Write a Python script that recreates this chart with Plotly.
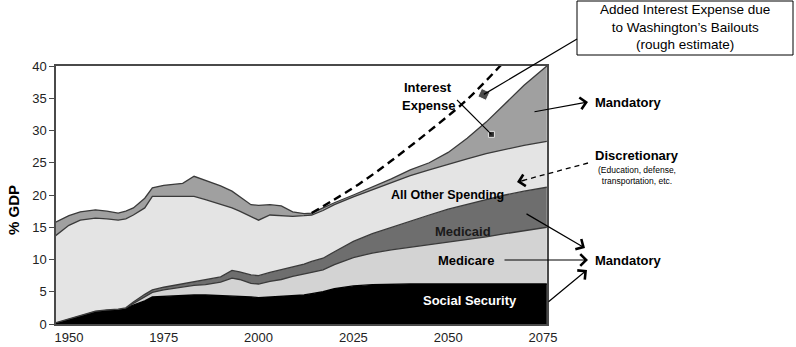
import plotly.graph_objects as go

# ---------------- data (% of GDP) ----------------
years = [1946.5, 1950, 1953, 1957, 1960, 1963, 1965, 1967, 1970, 1972, 1975, 1980,
         1983, 1986, 1990, 1993, 1995, 1998, 2000, 2003, 2006, 2009, 2012, 2014,
         2017, 2020, 2025, 2030, 2035, 2040, 2045, 2050, 2055, 2060, 2065, 2070, 2076]
social_security = [0.2, 0.8, 1.3, 2.0, 2.2, 2.3, 2.5, 2.9, 3.6, 4.2, 4.3, 4.4,
                   4.5, 4.5, 4.4, 4.4, 4.3, 4.2, 4.1, 4.2, 4.3, 4.4, 4.5, 4.7,
                   5.0, 5.5, 5.9, 6.1, 6.2, 6.2, 6.2, 6.2, 6.2, 6.2, 6.2, 6.2, 6.2]
medicare = [0, 0, 0, 0, 0, 0, 0, 0.3, 0.6, 0.7, 1.0, 1.3,
            1.5, 1.6, 2.1, 2.7, 2.6, 2.1, 2.1, 2.4, 2.6, 3.0, 3.2, 3.3,
            3.4, 3.7, 4.4, 4.9, 5.3, 5.7, 6.0, 6.4, 6.8, 7.3, 7.8, 8.3, 8.8]
medicaid = [0, 0, 0, 0, 0, 0, 0, 0.2, 0.4, 0.4, 0.4, 0.5,
            0.6, 0.7, 0.8, 1.2, 1.2, 1.3, 1.3, 1.4, 1.5, 1.5, 1.6, 1.7,
            1.8, 2.0, 2.5, 3.0, 3.5, 4.1, 4.7, 5.2, 5.6, 5.8, 6.0, 6.1, 6.2]
all_other = [13.5, 14.5, 14.8, 14.4, 14.1, 13.8, 13.8, 13.5, 13.4, 14.5, 14.1, 13.6,
             13.2, 12.5, 11.3, 9.7, 9.4, 9.0, 8.6, 8.9, 8.4, 7.8, 7.5, 7.2,
             7.4, 7.3, 6.9, 6.8, 7.0, 7.0, 7.0, 7.0, 7.0, 7.1, 7.1, 7.1, 7.1]
interest = [2.1, 1.5, 1.3, 1.3, 1.2, 1.1, 1.2, 1.1, 1.5, 1.3, 1.7, 2.0,
            3.1, 3.0, 2.8, 2.6, 2.3, 1.9, 2.3, 1.6, 1.5, 0.7, 0.3, 0.3,
            0.4, 0.3, 0.3, 0.4, 0.5, 0.9, 1.1, 1.8, 3.2, 4.9, 7.1, 9.3, 11.7]

bailout_years = [2014, 2020, 2027, 2035, 2045, 2055, 2064]
bailout_total = [17.2, 19.3, 21.9, 25.3, 29.9, 34.8, 40.2]

marker_years = [2059.4, 2061.4]
marker_values = [35.6, 29.4]

tick_years = [1950, 1975, 2000, 2025, 2050, 2075]
y_ticks = [0, 5, 10, 15, 20, 25, 30, 35, 40]

# ---------------- geometry helpers (pixels -> paper) ----------------
L, R, T, B = 56, 547, 66, 324
X0, X1 = 1946.6, 2076.05


def px(x):
    return (x - L) / (R - L)


def py(y):
    return (B - y) / (B - T)


def dx(year):
    return (year - X0) / (X1 - X0)


def dy(v):
    return v / 40.0


BOLD = "Liberation Sans, Arial, sans-serif"
NARROW = "Liberation Sans Narrow, Arial Narrow, Liberation Sans, Arial, sans-serif"
EDGE = "#3a3a3a"

fig = go.Figure()

series = [
    ("Social Security", social_security, "#000000", "#000000"),
    ("Medicare", medicare, "#d3d3d3", EDGE),
    ("Medicaid", medicaid, "#6e6e6e", EDGE),
    ("All Other Spending", all_other, "#e4e4e4", EDGE),
    ("Interest Expense", interest, "#a0a0a0", EDGE),
]
for name, vals, fillc, linec in series:
    fig.add_trace(go.Scatter(
        x=years, y=vals, name=name, mode="lines", stackgroup="one",
        fillcolor=fillc, line=dict(color=linec, width=1.3),
        showlegend=False, hoverinfo="skip"))

fig.add_trace(go.Scatter(
    x=bailout_years, y=bailout_total, mode="lines",
    line=dict(color="#000000", width=2.4, dash="8px,5px", shape="spline"),
    showlegend=False, hoverinfo="skip"))

fig.add_trace(go.Scatter(
    x=marker_years, y=marker_values, mode="markers",
    marker=dict(symbol="square", size=[9, 6], color="#000000", angle=[25, 0]),
    showlegend=False, hoverinfo="skip"))

shapes = [
    dict(type="rect", xref="paper", yref="paper",
         x0=px(577), x1=px(793), y0=py(55), y1=py(1),
         line=dict(color="#000000", width=1), fillcolor="white"),
    dict(type="line", xref="paper", yref="paper",
         x0=px(577), y0=py(39), x1=dx(marker_years[0]), y1=dy(marker_values[0]),
         line=dict(color="#000000", width=1.2)),
    dict(type="line", xref="paper", yref="paper",
         x0=px(457), y0=py(100), x1=dx(marker_years[1]), y1=dy(marker_values[1]),
         line=dict(color="#000000", width=1.1)),
    dict(type="line", xref="paper", yref="paper",
         x0=px(588), y0=py(163), x1=px(522), y1=py(180.7),
         line=dict(color="#000000", width=1.3, dash="5px,4px")),
]

annotations = []


def text(t, x, y, size=13, bold=True, color="#000000", family=BOLD):
    annotations.append(dict(
        text=("<b>%s</b>" % t) if bold else t, x=px(x), y=py(y),
        xref="paper", yref="paper", showarrow=False,
        xanchor="center", yanchor="middle",
        font=dict(size=size, color=color, family=family)))


def arrow(tail, head):
    annotations.append(dict(
        text="", x=px(head[0]), y=py(head[1]), xref="paper", yref="paper",
        ax=tail[0] - head[0], ay=tail[1] - head[1], axref="pixel", ayref="pixel",
        showarrow=True, arrowhead=4, arrowsize=1.9, arrowwidth=1.2,
        arrowcolor="#000000", standoff=0, startstandoff=0))


text("Interest", 428, 87)
text("Expense", 428, 105)
text("All Other Spending", 447, 195, size=12.5)
text("Medicaid", 463, 231, color="#1a1a1a")
text("Medicare", 466, 260)
text("Social Security", 470, 300, color="#ffffff")
text("Mandatory", 628, 102)
text("Discretionary", 637, 155)
text("(Education, defense,<br>transportation, etc.", 637, 175, size=8.5, bold=False, family=NARROW)
text("Mandatory", 628, 260)
text("Added Interest Expense due<br>to Washington\u2019s Bailouts<br>(rough estimate)",
     685, 27, size=13.5, bold=False)

annotations.append(dict(
    text="<b>% GDP</b>", x=px(13), y=py(210), xref="paper", yref="paper",
    showarrow=False, textangle=-90, xanchor="center", yanchor="middle",
    font=dict(size=15, color="#000000", family=BOLD)))

arrow((533, 112), (588, 102))
arrow((526, 180), (517, 182))
arrow((525, 213), (585, 248))
arrow((503, 260), (588, 260))
arrow((547, 303), (587, 270))

fig.update_layout(
    width=796, height=347,
    margin=dict(l=L, r=796 - R, t=T, b=347 - B, pad=0, autoexpand=False),
    paper_bgcolor="white", plot_bgcolor="white",
    shapes=shapes, annotations=annotations, showlegend=False,
    xaxis=dict(range=[X0, X1], tickvals=tick_years, showgrid=False, zeroline=False,
               showline=True, mirror=True, linecolor="#4a4a4a", linewidth=1.5,
               ticks="outside", ticklen=1, tickcolor="rgba(0,0,0,0)", automargin=False,
               tickfont=dict(size=13, family=NARROW, color="#222222")),
    yaxis=dict(range=[0, 40], tickvals=y_ticks, showgrid=False, zeroline=False,
               showline=True, mirror=True, linecolor="#4a4a4a", linewidth=1.5,
               ticks="outside", ticklen=5, tickcolor="#4a4a4a", automargin=False,
               tickfont=dict(size=13, family=NARROW, color="#222222")),
)

fig.write_html("out.html")
